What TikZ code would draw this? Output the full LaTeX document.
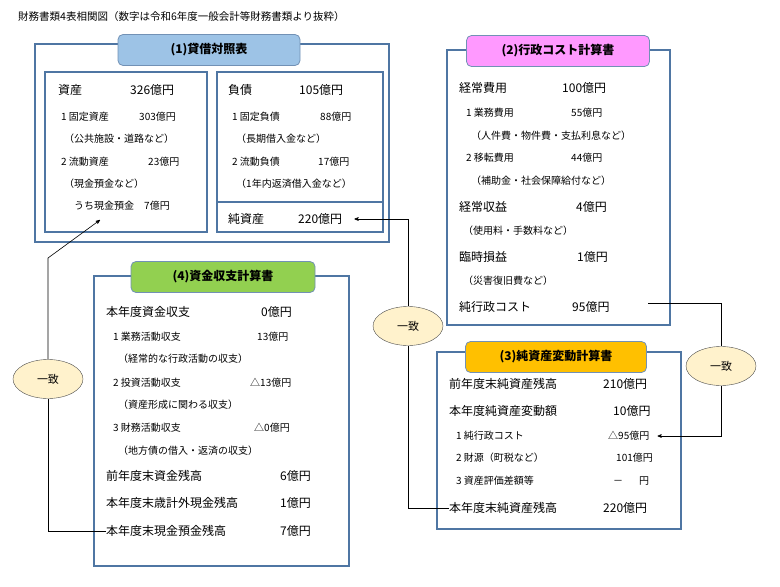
\documentclass[tikz,border=0pt]{standalone}
\usepackage{fontspec}
\setmainfont{Noto Sans CJK JP}
\usetikzlibrary{arrows}
\usetikzlibrary{calc}
\usetikzlibrary{positioning}
\usetikzlibrary{shapes.geometric}

\definecolor{frame}{HTML}{4F76A3}
\definecolor{bsblue}{HTML}{9DC3E6}
\definecolor{plpink}{HTML}{FF99FF}
\definecolor{cfgreen}{HTML}{92D050}
\definecolor{nwgold}{HTML}{FFC000}
\definecolor{agree}{HTML}{FFF2CC}

\tikzset{
  outer/.style={draw=frame, line width=2.4pt},
  inner/.style={draw=frame, line width=1.8pt},
  tab/.style={draw=frame!80, rounded corners=5pt, line width=0.8pt, minimum height=31pt,
    font=\fontsize{12}{12}\selectfont\bfseries, inner sep=0pt},
  big/.style={anchor=west, inner sep=0pt, font=\fontsize{12}{12}\selectfont},
  sml/.style={anchor=west, inner sep=0pt, font=\fontsize{10}{10}\selectfont},
  match/.style={ellipse, draw=black!70, fill=agree, minimum width=70pt, minimum height=39pt,
    font=\fontsize{11}{11}\selectfont},
  link/.style={draw, semithick},
}

\begin{document}
\begin{tikzpicture}[x=1pt, y=-1pt]
  \useasboundingbox (0,0) rectangle (780,587);

  \node [sml, font=\fontsize{10.5}{10.5}\selectfont] (caption) at (18,17)
    {財務書類4表相関図（数字は令和6年度一般会計等財務書類より抜粋）};

  % (1) balance sheet
  \draw [outer] (35,44) rectangle (389,242);
  \draw [inner] (45,72) rectangle (207,232);
  \draw [inner] (217,72) rectangle (383,202);
  \draw [inner] (217,202) rectangle (383,232);
  \node [tab, fill=bsblue, minimum width=182pt] (bs) at (209,50) {(1)貸借対照表};

  \node [big] (asset)  at (58,90)  {資産};      \node [big] at (130,90)  {326億円};
  \node [sml] (fixa)   at (61,117) {1 固定資産}; \node [sml] at (139,117) {303億円};
  \node [sml]          at (64,139) {（公共施設・道路など）};
  \node [sml] (cura)   at (61,162) {2 流動資産}; \node [sml] at (148,162) {23億円};
  \node [sml]          at (64,184) {（現金預金など）};
  \node [sml] (cash)   at (74,206) {うち現金預金\quad 7億円};

  \node [big] (liab)   at (228,90)  {負債};      \node [big] at (299,90)  {105億円};
  \node [sml]          at (232,117) {1 固定負債}; \node [sml] at (320,117) {88億円};
  \node [sml]          at (236,139) {（長期借入金など）};
  \node [sml]          at (232,162) {2 流動負債}; \node [sml] at (318,162) {17億円};
  \node [sml]          at (236,184) {（1年内返済借入金など）};
  \node [big] (na)     at (228,219) {純資産};    \node [big] (naval) at (298,219) {220億円};

  % (2) cost statement
  \draw [outer] (447,50) rectangle (670,325);
  \node [tab, fill=plpink, minimum width=183pt] (pl) at (558,51) {(2)行政コスト計算書};

  \node [big] at (459,88)  {経常費用};   \node [big] at (562,88)  {100億円};
  \node [sml] at (466,113) {1 業務費用}; \node [sml] at (571,113) {55億円};
  \node [sml] at (471,136) {（人件費・物件費・支払利息など）};
  \node [sml] at (466,158) {2 移転費用}; \node [sml] at (571,158) {44億円};
  \node [sml] at (471,181) {（補助金・社会保障給付など）};
  \node [big] at (459,207) {経常収益};   \node [big] at (576,207) {4億円};
  \node [sml] at (463,231) {（使用料・手数料など）};
  \node [big] at (459,257) {臨時損益};   \node [big] at (577,257) {1億円};
  \node [sml] at (463,281) {（災害復旧費など）};
  \node [big] (netcost) at (459,307) {純行政コスト}; \node [big] (ncval) at (572,307) {95億円};

  % (4) cash flow
  \draw [outer] (94,276) rectangle (349,566);
  \node [tab, fill=cfgreen, minimum width=184pt] (cf) at (223,277) {(4)資金収支計算書};

  \node [big] at (106,312) {本年度資金収支};  \node [big] at (261,312) {0億円};
  \node [sml] at (113,337) {1 業務活動収支};  \node [sml] at (257,337) {13億円};
  \node [sml] at (118,359) {（経常的な行政活動の収支）};
  \node [sml] at (113,383) {2 投資活動収支};  \node [sml] at (250,383) {△13億円};
  \node [sml] at (118,405) {（資産形成に関わる収支）};
  \node [sml] at (113,428) {3 財務活動収支};  \node [sml] at (254,428) {△0億円};
  \node [sml] at (118,451) {（地方債の借入・返済の収支）};
  \node [big] at (106,476) {前年度末資金残高};     \node [big] at (280,476) {6億円};
  \node [big] at (106,503) {本年度末歳計外現金残高}; \node [big] at (280,503) {1億円};
  \node [big] (endcash) at (106,531) {本年度末現金預金残高}; \node [big] at (280,531) {7億円};

  % (3) net assets statement
  \draw [outer] (437,352) rectangle (681,529);
  \node [tab, fill=nwgold, minimum width=181pt] (nw) at (556,357) {(3)純資産変動計算書};

  \node [big] at (449,384) {前年度末純資産残高}; \node [big] at (603,384) {210億円};
  \node [big] at (449,411) {本年度純資産変動額}; \node [big] at (613,411) {10億円};
  \node [sml] at (456,436) {1 純行政コスト};     \node [sml] (nwcost) at (608,436) {△95億円};
  \node [sml] at (456,458) {2 財源（町税など）}; \node [sml] at (616,458) {101億円};
  \node [sml] at (456,481) {3 資産評価差額等};   \node [sml] at (613,481) {－\hspace{16pt}円};
  \node [big] (endnw) at (449,508) {本年度末純資産残高}; \node [big] at (603,508) {220億円};

  % agreement marks
  \node [match] (m1) at (48,379) {一致};
  \node [match] (m2) at (408,326) {一致};
  \node [match] (m3) at (721,366) {一致};

  \coordinate (bend1) at (48,258);
  \coordinate (cashtip) at (100,220);
  \coordinate (c3) at (648,303);

  \path [link] (endcash.west) -| (m1.south);
  \path [link,->,>=stealth'] (m1.north) -- (bend1) -- (cashtip);
  \path [link] (endnw.west) -| (m2.south);
  \path [link,->,>=stealth'] (m2.north) |- ($(naval.east)+(12,0)$);
  \path [link] (c3) -| (m3.north);
  \path [link,->,>=stealth'] (m3.south) |- ($(nwcost.east)+(8,0)$);

\end{tikzpicture}
\end{document}
